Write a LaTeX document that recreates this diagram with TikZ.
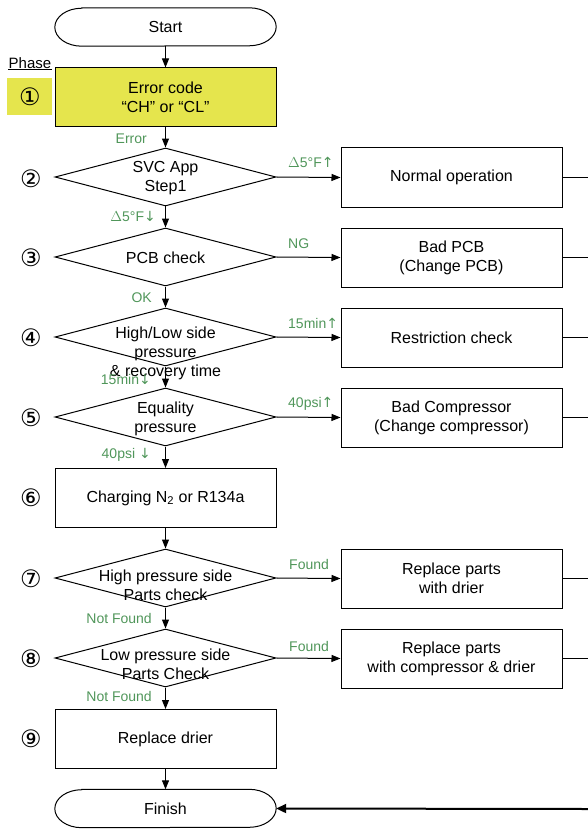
\documentclass[tikz,border=0pt]{standalone}
\usepackage{fontspec}
\setmainfont{Liberation Sans}
\newfontfamily\symfont{DejaVu Sans}
\usetikzlibrary{shapes.geometric,arrows.meta}
\definecolor{codeyellow}{RGB}{229,229,77}
\definecolor{flowgreen}{RGB}{80,150,90}
\tikzset{
  flowlines/.style={line width=1pt, draw=black},
  flowfont/.style={font=\fontsize{16}{19}\selectfont},
  term/.style={flowfont, rectangle, minimum width=221pt, minimum height=38pt},
  termline/.style={flowlines},
  proc/.style={flowlines, flowfont, rectangle, align=center, minimum width=221pt, minimum height=59pt},
  dec/.style={flowlines, diamond, inner sep=0pt, minimum width=221pt, minimum height=58pt},
  dectext/.style={flowfont, align=center, inner sep=0pt},
  cond/.style={text=flowgreen, inner sep=0pt, font=\fontsize{14}{16}\selectfont},
  phasenum/.style={inner sep=0pt, font=\symfont\fontsize{24}{24}\selectfont},
  phasehead/.style={inner sep=1pt, font=\fontsize{15}{17}\selectfont},
  flow/.style={line width=1pt, -{Triangle[length=9pt,width=7pt]}},
  flowend/.style={line width=2pt, -{Triangle[length=10pt,width=9pt]}},
  tail/.style={line width=1pt},
}
\newcommand\termoutline[1]{%
  \draw[termline] ([xshift=27pt]#1.north west) -- ([xshift=-27pt]#1.north east)
    arc[start angle=90, end angle=-90, x radius=27pt, y radius=19pt]
    -- ([xshift=27pt]#1.south west)
    arc[start angle=270, end angle=90, x radius=27pt, y radius=19pt] -- cycle;}
\begin{document}
\begin{tikzpicture}[x=1pt,y=-1pt]
\useasboundingbox (0,0) rectangle (588,829);
\node[term] (start) at (165.5,27) {Start};
\termoutline{start}
\node[proc, fill=codeyellow] (err) at (165.5,97.5) {Error code\\``CH'' or ``CL''};
\node[dec] (svc) at (165.5,177) {};
\node[dectext] (svctext) at (165.5,178) {SVC App\\Step1};
\node[dec] (pcb) at (165.5,257) {};
\node[dectext] (pcbtext) at (165.5,258) {PCB check};
\node[dec] (hilo) at (165.5,337) {};
\node[dectext] (hilotext) at (165.5,353) {High/Low side\\pressure\\\& recovery time};
\node[dec] (equal) at (165.5,417) {};
\node[dectext] (equaltext) at (165.5,419) {Equality\\pressure};
\node[proc] (charge) at (165.5,498) {Charging N\textsubscript{2} or R134a};
\node[dec] (hips) at (165.5,578) {};
\node[dectext] (hipstext) at (165.5,585) {High pressure side\\Parts check};
\node[dec] (lops) at (165.5,658) {};
\node[dectext] (lopstext) at (165.5,664) {Low pressure side\\Parts Check};
\node[proc] (drier) at (165.5,739) {Replace drier};
\node[term] (finish) at (165.5,808.5) {Finish};
\termoutline{finish}

\node[proc] (normal) at (451.5,177.5) {Normal operation};
\node[proc] (badpcb) at (451.5,257.5) {Bad PCB\\(Change PCB)};
\node[proc] (restr) at (451.5,337.5) {Restriction check};
\node[proc] (badcomp) at (451.5,417.5) {Bad Compressor\\(Change compressor)};
\node[proc] (rpdrier) at (451.5,578.5) {Replace parts\\with drier};
\node[proc] (rpcomp) at (451.5,658.5) {Replace parts\\with compressor \& drier};

\coordinate (normalout) at (588,177.5);
\coordinate (badpcbout) at (588,257.5);
\coordinate (restrout) at (588,337.5);
\coordinate (badcompout) at (588,417.5);
\coordinate (rpdrierout) at (588,578.5);
\coordinate (rpcompout) at (588,658.5);
\coordinate (finishin) at (588,809);

\draw[flow] (start) -- (err);
\draw[flow] (err) -- (svc);
\draw[flow] (svc) -- (pcb);
\draw[flow] (pcb) -- (hilo);
\draw[flow] (hilo) -- (equal);
\draw[flow] (equal) -- (charge);
\draw[flow] (charge) -- (hips);
\draw[flow] (hips) -- (lops);
\draw[flow] (lops) -- (drier);
\draw[flow] (drier) -- (finish);
\draw[flow] (svc.east) -- (normal.west);
\draw[flow] (pcb.east) -- (badpcb.west);
\draw[flow] (hilo.east) -- (restr.west);
\draw[flow] (equal.east) -- (badcomp.west);
\draw[flow] (hips.east) -- (rpdrier.west);
\draw[flow] (lops.east) -- (rpcomp.west);
\draw[tail] (normal.east) -- (normalout);
\draw[tail] (badpcb.east) -- (badpcbout);
\draw[tail] (restr.east) -- (restrout);
\draw[tail] (badcomp.east) -- (badcompout);
\draw[tail] (rpdrier.east) -- (rpdrierout);
\draw[tail] (rpcomp.east) -- (rpcompout);
\draw[flowend] (finishin) -- (finish.east);

\node[cond, anchor=east] (conderr) at (147,139) {Error};
\node[cond, anchor=east] (condsvcdn) at (156,216) {$\Delta$5°F{\symfont↓}};
\node[cond, anchor=east] (condok) at (152,298) {OK};
\node[cond, anchor=east] (condhilodn) at (151,379) {15min{\symfont↓}};
\node[cond, anchor=east] (condequaldn) at (151,455) {40psi {\symfont↓}};
\node[cond, anchor=east] (condhipsdn) at (152,618) {Not Found};
\node[cond, anchor=east] (condlopsdn) at (152,696) {Not Found};
\node[cond, anchor=west] (condsvcup) at (288,162) {$\Delta$5°F{\symfont↑}};
\node[cond, anchor=west] (condng) at (288,244) {NG};
\node[cond, anchor=west] (condhiloup) at (288,323) {15min{\symfont↑}};
\node[cond, anchor=west] (condequalup) at (288,404) {40psi{\symfont↑}};
\node[cond, anchor=west] (condhipsup) at (289,564) {Found};
\node[cond, anchor=west] (condlopsup) at (289,646) {Found};

\node[phasehead] (phase) at (30,63) {Phase};
\draw[tail] (8,70) -- (52,70);
\fill[codeyellow] (7,78) rectangle (52,115);
\node[phasenum] (ph1) at (30,97) {①};
\node[phasenum] (ph2) at (31,179) {②};
\node[phasenum] (ph3) at (31,258) {③};
\node[phasenum] (ph4) at (31,338) {④};
\node[phasenum] (ph5) at (31,418) {⑤};
\node[phasenum] (ph6) at (31,498) {⑥};
\node[phasenum] (ph7) at (31,579) {⑦};
\node[phasenum] (ph8) at (31,659) {⑧};
\node[phasenum] (ph9) at (31,739) {⑨};
\end{tikzpicture}
\end{document}
